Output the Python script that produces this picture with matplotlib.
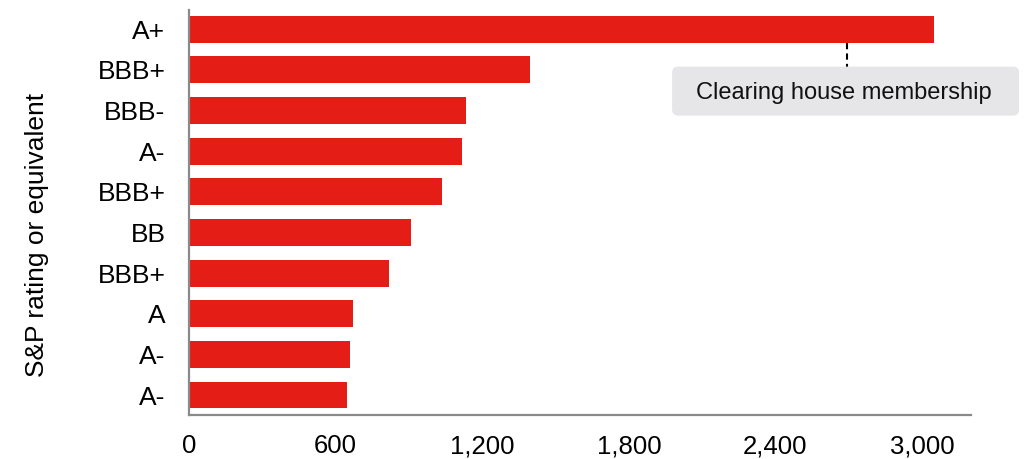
import matplotlib
matplotlib.use("Agg")
import matplotlib.pyplot as plt
from matplotlib.patches import FancyBboxPatch
from matplotlib.ticker import FuncFormatter

ratings = ["A+", "BBB+", "BBB-", "A-", "BBB+", "BB", "BBB+", "A", "A-", "A-"]
values = [3050, 1395, 1133, 1117, 1035, 908, 818, 671, 658, 647]
xticks = [0, 600, 1200, 1800, 2400, 3000]
annot_text = "Clearing house membership"
annot_x = 2691

plt.rcParams['font.family'] = ['Liberation Sans', 'DejaVu Sans']

W, H = 1027, 459
fig = plt.figure(figsize=(W / 100, H / 100), dpi=100)
ax = fig.add_axes([189 / W, 1 - 415 / H, (971 - 189) / W, (415 - 10) / H])

n = len(values)
ypos = list(range(n - 1, -1, -1))
bar_color = "#e41e16"
ax.barh(ypos, values, height=0.66, color=bar_color, zorder=2)

ax.set_xlim(0, 3200)
ax.set_ylim(-0.49, n - 1 + 0.47)
ax.set_yticks(ypos)
ax.set_yticklabels(ratings, fontsize=19)
ax.set_xticks(xticks)
ax.xaxis.set_major_formatter(FuncFormatter(lambda v, p: f"{int(v):,}"))
ax.tick_params(axis="x", labelsize=18.5, length=0, pad=14)
ax.tick_params(axis="y", length=0, pad=17)

for s in ["top", "right"]:
    ax.spines[s].set_visible(False)
for s in ["left", "bottom"]:
    ax.spines[s].set_color("#8a8a8a")
    ax.spines[s].set_linewidth(1.6)

ax.set_ylabel("S&P rating or equivalent", fontsize=19)
ax.yaxis.set_label_coords((49 - 189) / 782, (415 - 235) / 405)

# annotation: dashed connector and rounded box
top_bar_y = ypos[0]
box_center_y = top_bar_y - 1.525
ax.plot([annot_x, annot_x], [top_bar_y - 0.33, box_center_y + 0.6],
        color="black", linestyle=(0, (3, 2)), linewidth=1.5, zorder=3, clip_on=False)

fig.canvas.draw()
cx, cy = ax.transData.transform((annot_x, box_center_y))
bw, bh = 347, 49
box = FancyBboxPatch((cx - bw / 2 - 1, cy - bh / 2), bw, bh,
                     boxstyle="round,pad=0,rounding_size=6",
                     facecolor="#e6e5e8", edgecolor="none",
                     transform=None, zorder=4)
fig.patches.append(box)
fig.text((cx - 3) / W, (cy - 2) / H, annot_text, fontsize=17, ha="center", va="center",
         color="#111111", zorder=5)

fig.savefig("out.png", dpi=100)
